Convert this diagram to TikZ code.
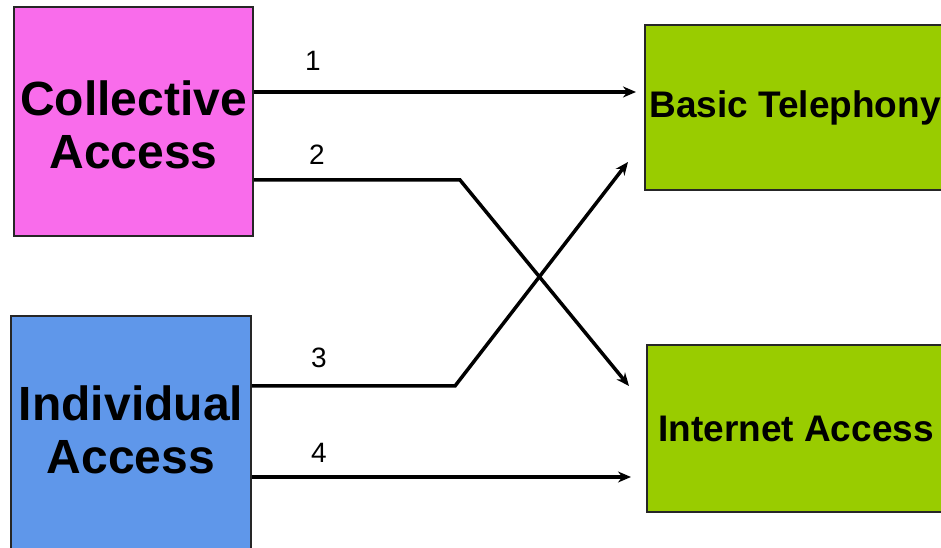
\documentclass[tikz,border=0pt]{standalone}
\usepackage{fontspec}
\setmainfont{Liberation Sans}
\usetikzlibrary{arrows.meta}
\definecolor{pinkbox}{HTML}{F96CEB}
\definecolor{bluebox}{HTML}{5F97EA}
\definecolor{greenbox}{HTML}{99CC00}
\tikzset{
  box/.style={draw=black!85, line width=1.5pt, inner sep=0pt, font=\bfseries, align=center},
  bigtext/.style={font=\bfseries\fontsize{48}{53}\selectfont, align=center, inner sep=0pt},
  conn/.style={line width=3.5pt, -{Stealth[length=13pt,width=11pt]}},
  num/.style={font=\fontsize{28}{32}\selectfont, inner sep=0pt}
}
\begin{document}
\begin{tikzpicture}[x=1pt,y=1pt]
\useasboundingbox (0,0) rectangle (941,548);
\clip (0,0) rectangle (941,548);
\fill[white] (0,0) rectangle (941,548);
% boxes
\node[box, fill=pinkbox, minimum width=239pt, minimum height=229pt] (coll) at (133.5,426.5) {};
\node[bigtext] (colltext) at (133.5,423.5) {Collective\\Access};
\node[box, fill=bluebox, minimum width=240pt, minimum height=244pt] (ind) at (131,110) {};
\node[bigtext] (indtext) at (131,118) {Individual\\Access};
\node[box, fill=greenbox, minimum width=300pt, minimum height=165pt, font=\bfseries\fontsize{37}{40}\selectfont] (tel) at (795,440.5) {\raisebox{-3pt}{Basic Telephony}};
\node[box, fill=greenbox, minimum width=298pt, minimum height=167pt, font=\bfseries\fontsize{37}{40}\selectfont] (net) at (796,119.5) {\raisebox{-1pt}{Internet Access}};
% free ends
\coordinate (e1) at (636,456);
\coordinate (b2) at (460,368);
\coordinate (e2) at (629,162);
\coordinate (b3) at (455,162);
\coordinate (e3) at (628,386);
\coordinate (e4) at (631,71);
% connectors
\draw[conn] ([yshift=29.5pt]coll.east) -- (e1);
\draw[conn] ([yshift=-58.5pt]coll.east) -- (b2) -- (e2);
\draw[conn] ([yshift=52pt]ind.east) -- (b3) -- (e3);
\draw[conn] ([yshift=-39pt]ind.east) -- (e4);
% labels
\node[num] (n1) at (313,487) {1};
\node[num] (n2) at (317,393) {2};
\node[num] (n3) at (319,190) {3};
\node[num] (n4) at (319,95) {4};
\end{tikzpicture}
\end{document}
